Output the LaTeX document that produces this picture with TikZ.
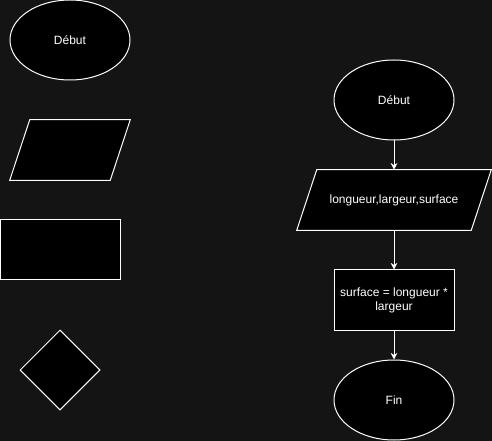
\documentclass[tikz,border=0pt]{standalone}
\usepackage{fontspec}
\setmainfont{Liberation Sans}
\usetikzlibrary{shapes.geometric, arrows.meta}
\definecolor{fond}{RGB}{20,20,20}
\pgfdeclarelayer{background}
\pgfsetlayers{background,main}

\begin{document}
\begin{tikzpicture}[x=0.75pt, y=-0.75pt, font=\fontsize{9pt}{10.5pt}\selectfont,
  forme/.style={draw=white, fill=black, text=white, line width=0.75pt, inner sep=0pt},
  terminal/.style={forme, ellipse, minimum width=90pt, minimum height=60pt},
  entree/.style={rectangle, text=white, inner sep=0pt, minimum height=45pt},
  calculbox/.style={forme, rectangle, minimum width=90pt, minimum height=45pt, align=center},
  test/.style={forme, diamond, minimum width=60pt, minimum height=60pt},
  fleche/.style={draw=white, line width=0.75pt, -{Stealth[length=5pt, width=5pt]}}]
\useasboundingbox (0,0) rectangle (492,441);
% legende des formes
\node[terminal] (tdebut) at (70,40) {Début};
\node[entree, minimum width=90pt] (tentree) at (70,150) {};
\node[calculbox] (ttraitement) at (60,250) {};
\node[test] (tcondition) at (60,370) {};
% algorithme
\node[terminal] (debut) at (394,100) {Début};
\node[entree, minimum width=145.5pt] (lecture) at (394,200) {longueur,largeur,surface};
\node[calculbox] (calcul) at (394,300) {surface = longueur *\\largeur};
\node[terminal] (fin) at (394,400) {Fin};
\draw[fleche] (debut) -- (lecture);
\draw[fleche] (lecture) -- (calcul);
\draw[fleche] (calcul) -- (fin);
% fond et parallelogrammes
\begin{pgfonlayer}{background}
\fill[fond] (0,0) rectangle (492,441);
\foreach \n in {tentree, lecture}
  \filldraw[forme] (\n.south west) -- ([xshift=15pt]\n.north west)
    -- (\n.north east) -- ([xshift=-15pt]\n.south east) -- cycle;
\end{pgfonlayer}
\end{tikzpicture}
\end{document}
